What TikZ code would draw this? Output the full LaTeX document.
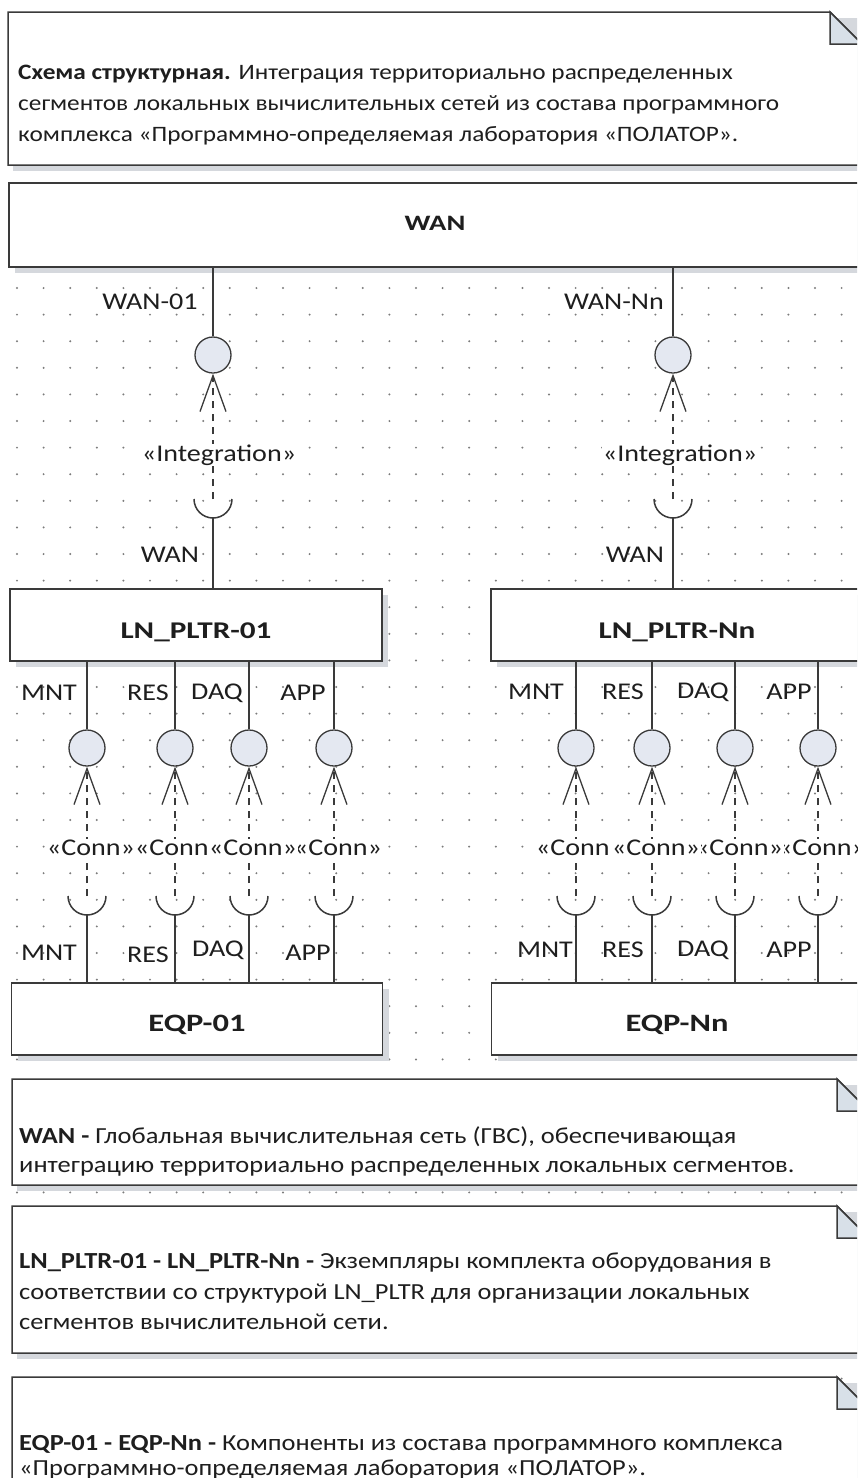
\documentclass[tikz,border=0pt]{standalone}
\usepackage{fontspec}
\setmainfont{Carlito}
\newfontfamily\notefont{Carlito}[FakeStretch=1.15]
\newfontfamily\lblfont{Carlito}[FakeStretch=1.17]
\newfontfamily\boxfont{Carlito}[FakeStretch=1.3]
\usetikzlibrary{arrows.meta,shadows}
\definecolor{ln}{HTML}{3A3A3A}
\definecolor{portfill}{HTML}{E4E8F1}
\definecolor{foldfill}{HTML}{D8E0E8}
\definecolor{dotc}{HTML}{7C7C7C}
\definecolor{shadowc}{HTML}{D5D8DD}
\definecolor{txt}{HTML}{1E1E1E}
\tikzset{
  box/.style={draw=ln, line width=1.5pt, fill=white, inner sep=0pt,
    font=\boxfont\fontsize{24}{28}\selectfont\bfseries, text=txt,
    drop shadow={shadow xshift=6pt, shadow yshift=-6pt, fill=shadowc, opacity=1}},
  port/.style={circle, draw=ln, line width=1.3pt, fill=portfill, minimum size=36pt, inner sep=0pt},
  conn/.style={draw=ln, line width=1.5pt},
  dep/.style={draw=ln, line width=1.3pt, dash pattern=on 7pt off 6pt,
    -{Straight Barb[length=36pt, width=26pt, line width=1.3pt]}},
  lbl/.style={font=\lblfont\fontsize{24}{30}\selectfont, inner sep=0pt, text=txt},
  stereo/.style={font=\lblfont\fontsize{24}{30}\selectfont, inner sep=1pt, fill=white, text=txt},
  notebd/.style={draw=ln, line width=1.5pt},
  ntext/.style={font=\notefont\fontsize{23}{30}\selectfont, anchor=base west, inner sep=0pt, text=txt},
}
\newcommand\drawnote[4]{%
  \fill[shadowc] (#1+5,#2+6) rectangle (#3+5,#4+6);
  \draw[notebd, fill=white] (#1,#2) -- (#3-32,#2) -- (#3,#2+32) -- (#3,#4) -- (#1,#4) -- cycle;
  \draw[notebd, fill=foldfill] (#3-32,#2) -- (#3-32,#2+32) -- (#3,#2+32) -- cycle;
}
\begin{document}
\begin{tikzpicture}[x=1pt,y=-1pt]
\useasboundingbox (0,0) rectangle (857,1478);
\clip (0,0) rectangle (857,1478);
\fill[white] (0,0) rectangle (857,1478);
% grid
\foreach \i in {0,...,32}{\foreach \j in {0,...,44}{
  \fill[dotc] ({17+26.6*\i},{288+26.6*\j}) circle (1.1pt);}}
% title note
\drawnote{8}{12}{862}{165}
\node[ntext, font=\notefont\fontsize{22}{30}\selectfont] (t1) at (18,79) {\textbf{Схема структурная.} Интеграция территориально распределенных};
\node[ntext, font=\notefont\fontsize{22}{30}\selectfont] (t2) at (18,110) {сегментов локальных вычислительных сетей из состава программного};
\node[ntext, font=\notefont\fontsize{22}{30}\selectfont] (t3) at (18,141) {комплекса «Программно-определяемая лаборатория «ПОЛАТОР».};
% boxes
\node[box, minimum width=852pt, minimum height=84pt, font=\boxfont\fontsize{22}{26}\selectfont\bfseries,
  text height=10pt, text depth=0pt] (wan) at (435,225) {WAN};
\node[box, minimum width=372pt, minimum height=72pt, text height=26pt, text depth=0pt] (ln1) at (196,625) {LN\_PLTR-01};
\node[box, minimum width=372pt, minimum height=72pt, text height=26pt, text depth=0pt] (lnn) at (677,625) {LN\_PLTR-Nn};
\node[box, minimum width=371pt, minimum height=72pt, font=\boxfont\fontsize{25}{28}\selectfont\bfseries,
  text height=24pt, text depth=0pt] (eq1) at (197,1019) {EQP-01};
\node[box, minimum width=371pt, minimum height=72pt, font=\boxfont\fontsize{25}{28}\selectfont\bfseries,
  text height=24pt, text depth=0pt] (eqn) at (677,1019) {EQP-Nn};
% WAN integration, left
\node[port] (pw1) at (213,355) {};
\coordinate (kw1) at (213,499);
\draw[conn] (wan.south -| pw1) -- (pw1.north);
\draw[dep] (kw1) -- (pw1.south);
\draw[conn] ([xshift=-19pt]kw1) arc[start angle=180, end angle=0, radius=19];
\draw[conn] ([yshift=-19pt]kw1) -- (ln1.north -| kw1);
\node[stereo] (sw1) at (219,455) {«Integration»};
\node[lbl] (lw1) at (150,302) {WAN-01};
\node[lbl] (lw1b) at (170,555) {WAN};
% WAN integration, right
\node[port] (pwn) at (673,355) {};
\coordinate (kwn) at (673,499);
\draw[conn] (wan.south -| pwn) -- (pwn.north);
\draw[dep] (kwn) -- (pwn.south);
\draw[conn] ([xshift=-19pt]kwn) arc[start angle=180, end angle=0, radius=19];
\draw[conn] ([yshift=-19pt]kwn) -- (lnn.north -| kwn);
\node[stereo] (swn) at (680,455) {«Integration»};
\node[lbl] (lwn) at (614,302) {WAN-Nn};
\node[lbl] (lwnb) at (635,555) {WAN};
% ports left
\foreach \n/\x in {a/87,b/175,c/249,d/334}{
  \node[port] (q1\n) at (\x,748) {};
  \coordinate (m1\n) at (\x,896);
  \draw[conn] (ln1.south -| q1\n) -- (q1\n.north);
  \draw[dep] (m1\n) -- (q1\n.south);
  \draw[conn] ([xshift=-19pt]m1\n) arc[start angle=180, end angle=0, radius=19];
  \draw[conn] ([yshift=-19pt]m1\n) -- (eq1.north -| m1\n);
}
\node[stereo] (c1b) at (179,848) {«Conn»};
\node[stereo] (c1d) at (338,848) {«Conn»};
\node[stereo] (c1a) at (91,848) {«Conn»};
\node[stereo] (c1c) at (253,848) {«Conn»};
% ports right
\foreach \n/\x in {a/576,b/652,c/735,d/818}{
  \node[port] (qn\n) at (\x,748) {};
  \coordinate (mn\n) at (\x,896);
  \draw[conn] (lnn.south -| qn\n) -- (qn\n.north);
  \draw[dep] (mn\n) -- (qn\n.south);
  \draw[conn] ([xshift=-19pt]mn\n) arc[start angle=180, end angle=0, radius=19];
  \draw[conn] ([yshift=-19pt]mn\n) -- (eqn.north -| mn\n);
}
\node[stereo] (cna) at (580,848) {«Conn»};
\node[stereo] (cnd) at (822,848) {«Conn»};
\node[stereo] (cnc) at (739,848) {«Conn»};
\node[stereo] (cnb) at (656,848) {«Conn»};
% port labels
\node[lbl] (u1) at (49,693) {MNT};
\node[lbl] (u2) at (148,693) {RES};
\node[lbl] (u3) at (217,693) {DAQ};
\node[lbl] (u4) at (303,693) {APP};
\node[lbl] (v1) at (49,953) {MNT};
\node[lbl] (v2) at (148,955) {RES};
\node[lbl] (v3) at (218,950) {DAQ};
\node[lbl] (v4) at (308,953) {APP};
\node[lbl] (w1) at (536,692) {MNT};
\node[lbl] (w2) at (623,692) {RES};
\node[lbl] (w3) at (703,692) {DAQ};
\node[lbl] (w4) at (789,692) {APP};
\node[lbl] (z1) at (545,950) {MNT};
\node[lbl] (z2) at (623,950) {RES};
\node[lbl] (z3) at (703,950) {DAQ};
\node[lbl] (z4) at (789,950) {APP};
% bottom notes
\drawnote{12}{1079}{869}{1185}
\node[ntext] (n1a) at (19,1143) {\textbf{WAN -} Глобальная вычислительная сеть (ГВС), обеспечивающая};
\node[ntext] (n1b) at (19,1172) {интеграцию территориально распределенных локальных сегментов.};
\drawnote{12}{1206}{869}{1353}
\node[ntext] (n2a) at (19,1268) {\textbf{LN\_PLTR-01 - LN\_PLTR-Nn -} Экземпляры комплекта оборудования в};
\node[ntext] (n2b) at (19,1299) {соответствии со структурой LN\_PLTR для организации локальных};
\node[ntext] (n2c) at (19,1329) {сегментов вычислительной сети.};
\drawnote{12}{1377}{869}{1500}
\node[ntext] (n3a) at (19,1450) {\textbf{EQP-01 - EQP-Nn -} Компоненты из состава программного комплекса};
\node[ntext] (n3b) at (19,1475) {«Программно-определяемая лаборатория «ПОЛАТОР».};
\end{tikzpicture}
\end{document}
